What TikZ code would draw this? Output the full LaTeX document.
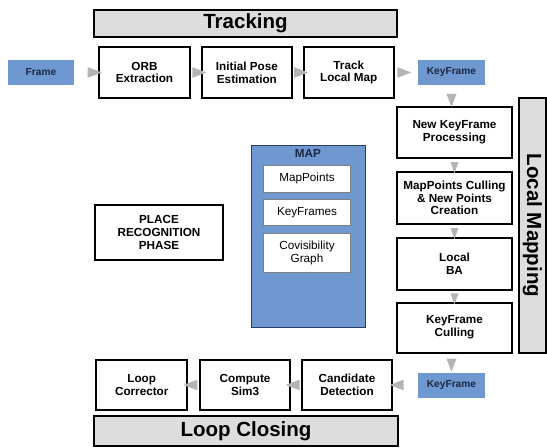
\documentclass[tikz,border=0pt]{standalone}
\usepackage{fontspec}
\setmainfont{Liberation Sans}
\usepackage{tikz}
\usetikzlibrary{shapes.geometric,positioning}
\definecolor{kfblue}{RGB}{110,152,207}
\definecolor{kfnavy}{RGB}{28,40,72}
\definecolor{bannergray}{RGB}{221,221,221}
\definecolor{trigray}{RGB}{180,180,180}
\definecolor{mapline}{RGB}{45,60,90}
\tikzset{stepbox/.style={draw,line width=1.6pt,fill=white,align=center,
    inner sep=1pt,font=\bfseries\fontsize{10}{11}\selectfont}}
\tikzset{banner/.style={draw,line width=1.3pt,fill=bannergray,
    font=\bfseries\fontsize{17.5}{20}\selectfont}}
\tikzset{kfbox/.style={fill=kfblue,text=kfnavy,
    minimum width=2cm,minimum height=0.75cm,
    font=\bfseries\fontsize{8.7}{10}\selectfont}}
\tikzset{mapitem/.style={draw=gray,fill=white,line width=0.5pt,align=center,
    minimum width=2.61cm,font=\fontsize{10}{11}\selectfont}}
\tikzset{tri/.style={isosceles triangle,isosceles triangle stretches,
    fill=trigray,inner sep=0pt,outer sep=0pt,
    minimum width=0.32cm,minimum height=0.42cm,sloped,allow upside down}}
\begin{document}
\begin{tikzpicture}[x=0.03cm,y=-0.03cm]
\useasboundingbox (0,0) rectangle (547,448);

% Tracking
\node[banner,
    minimum width=9.09cm,
    minimum height=0.81cm
] (tracking) at (245.5,23.5) {Tracking};

\node[kfbox,
    minimum width=1.98cm
] (frame) at (41,72.5) {Frame};

\node[stepbox,
    minimum width=2.73cm,
    minimum height=1.53cm
] (orb) at (144.5,72.5) {ORB\\Extraction};

\node[stepbox,
    right=0.3cm of orb,
    minimum width=2.7cm,
    minimum height=1.53cm
] (pose) {Initial Pose\\Estimation};

\node[stepbox,
    right=0.3cm of pose,
    minimum width=2.7cm,
    minimum height=1.53cm
] (tlm) {Track\\Local Map};

\node[kfbox] (kf1) at (451.5,72.5) {KeyFrame};

% Local Mapping
\node[stepbox,
    minimum width=3.45cm,
    minimum height=1.53cm
] (nkf) at (454.5,132.5) {New KeyFrame\\Processing};

\node[stepbox,
    below=0.36cm of nkf,
    minimum width=3.45cm,
    minimum height=1.56cm
] (cull) {MapPoints Culling\\\& New Points\\Creation};

\node[stepbox,
    below=0.36cm of cull,
    minimum width=3.45cm,
    minimum height=1.56cm
] (ba) {Local\\BA};

\node[stepbox,
    below=0.33cm of ba,
    minimum width=3.45cm,
    minimum height=1.5cm
] (kfcull) {KeyFrame\\Culling};

\node[banner,
    rotate=-90,
    minimum width=7.65cm,
    minimum height=0.81cm
] (mapping) at (532.5,225.5) {Local Mapping};

% Map
\node[draw=mapline,fill=kfblue,line width=0.8pt,
    minimum width=3.42cm,
    minimum height=5.46cm
] (map) at (308,236) {};
\node[anchor=north,font=\bfseries\fontsize{10}{11}\selectfont,text=kfnavy,
    inner sep=1pt] (maptitle) at ([yshift=-0.1cm]map.north) {MAP};
\node[mapitem,minimum height=0.81cm] (mpoints) at (307,178.5) {MapPoints};
\node[mapitem,below=0.2cm of mpoints,minimum height=0.78cm] (kframes) {KeyFrames};
\node[mapitem,below=0.22cm of kframes,minimum height=1.17cm] (covis) {Covisibility\\Graph};

\node[draw,line width=1pt,align=center,
    minimum width=3.84cm,
    minimum height=1.65cm,
    font=\bfseries\fontsize{10}{11}\selectfont
] (place) at (159,232.5) {PLACE\\RECOGNITION\\PHASE};

% Loop Closing
\node[kfbox] (kf2) at (451.5,385) {KeyFrame};

\node[stepbox,
    minimum width=2.7cm,
    minimum height=1.5cm
] (cand) at (347,385) {Candidate\\Detection};

\node[stepbox,
    left=0.3cm of cand,
    minimum width=2.7cm,
    minimum height=1.5cm
] (sim3) {Compute\\Sim3};

\node[stepbox,
    left=0.33cm of sim3,
    minimum width=2.73cm,
    minimum height=1.5cm
] (corr) {Loop\\Corrector};

\node[banner,
    minimum width=9.12cm,
    minimum height=0.9cm
] (closing) at (246,431) {Loop Closing};

% Arrows
\path (frame) -- node[tri,pos=0.72] {} (orb)
    (orb) -- node[tri] {} (pose)
    (pose) -- node[tri] {} (tlm)
    (tlm) -- node[tri,pos=0.27] {} (kf1)
    (kf1.south) -- node[tri,pos=0.58,minimum width=0.3cm,minimum height=0.39cm] {} (kf1.south |- nkf.north)
    (nkf) -- node[tri,minimum width=0.24cm,minimum height=0.33cm] {} (cull)
    (cull) -- node[tri,minimum width=0.24cm,minimum height=0.33cm] {} (ba)
    (ba) -- node[tri,minimum width=0.24cm,minimum height=0.33cm] {} (kfcull)
    (kf2.north |- kfcull.south) -- node[tri,pos=0.46,minimum width=0.3cm,minimum height=0.39cm] {} (kf2.north)
    (kf2) -- node[tri,pos=0.72] {} (cand)
    (cand) -- node[tri] {} (sim3)
    (sim3) -- node[tri] {} (corr)
    ;
\end{tikzpicture}
\end{document}
